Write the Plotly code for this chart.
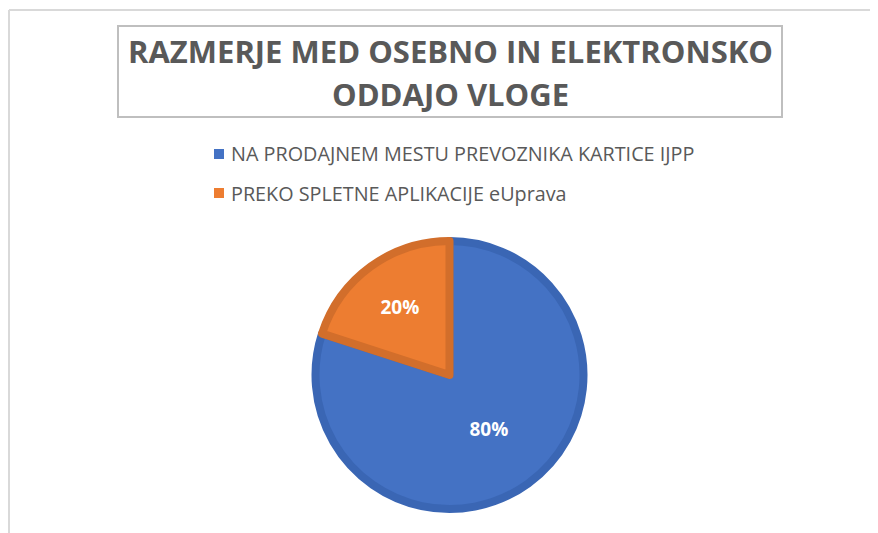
import plotly.graph_objects as go

# ---- data ----
labels = ["NA PRODAJNEM MESTU PREVOZNIKA KARTICE IJPP", "PREKO SPLETNE APLIKACIJE eUprava"]
values = [80, 20]
title_lines = ["RAZMERJE MED OSEBNO IN ELEKTRONSKO", "ODDAJO VLOGE"]

# ---- styles ----
fill_colors = ["#4472C4", "#ED7D31"]
edge_colors = ["#3A66B4", "#D26E2B"]
text_color = "#595959"
W, H = 878, 533
OFF = 8  # browser body margin

def px(x):
    return (x - OFF) / W

def py(y):
    return 1 - (y - OFF) / H

cx, cy, r = 449.5, 375.0, 134.0

fig = go.Figure(go.Pie(
    labels=labels,
    values=values,
    sort=False,
    direction="clockwise",
    rotation=0,
    marker=dict(colors=fill_colors, line=dict(color=edge_colors, width=8)),
    texttemplate="%{percent:.0%}",
    textposition="inside",
    insidetextorientation="horizontal",
    textfont=dict(family="Open Sans", size=19, color="white", weight="bold"),
    hoverinfo="label+percent",
    domain=dict(x=[px(cx - r), px(cx + r)], y=[py(cy + r), py(cy - r)]),
    showlegend=False,
))

shapes = [
    # outer chart frame (partially visible)
    dict(type="line", xref="paper", yref="paper", x0=px(9), x1=1, y0=py(10), y1=py(10),
         line=dict(color="#D9D9D9", width=2)),
    dict(type="line", xref="paper", yref="paper", x0=px(9), x1=px(9), y0=py(10), y1=0,
         line=dict(color="#D9D9D9", width=2)),
    # title box
    dict(type="rect", xref="paper", yref="paper", x0=px(118), x1=px(782), y0=py(26), y1=py(117),
         line=dict(color="#BFBFBF", width=2), fillcolor="rgba(0,0,0,0)"),
]
annotations = []
for i, line in enumerate(title_lines):
    annotations.append(dict(
        text=line, x=px(450), y=py(51 + 43 * i), xref="paper", yref="paper",
        showarrow=False, xanchor="center", yanchor="middle",
        font=dict(family="Open Sans", size=31, color=text_color, weight="bold"),
    ))

# manual legend
for i, (lab, col) in enumerate(zip(labels, fill_colors)):
    yc = 154 + 39 * i
    shapes.append(dict(type="rect", xref="paper", yref="paper",
                       x0=px(214), x1=px(224), y0=py(yc - 5), y1=py(yc + 5),
                       fillcolor=col, line=dict(width=0)))
    annotations.append(dict(
        text=lab, x=px(229), y=py(yc), xref="paper", yref="paper",
        showarrow=False, xanchor="left", yanchor="middle",
        font=dict(family="Open Sans", size=19.8, color=text_color),
    ))

fig.update_layout(
    width=W, height=H,
    margin=dict(l=0, r=0, t=0, b=0),
    paper_bgcolor="white",
    plot_bgcolor="white",
    shapes=shapes,
    annotations=annotations,
)

fig.write_html("out.html")
